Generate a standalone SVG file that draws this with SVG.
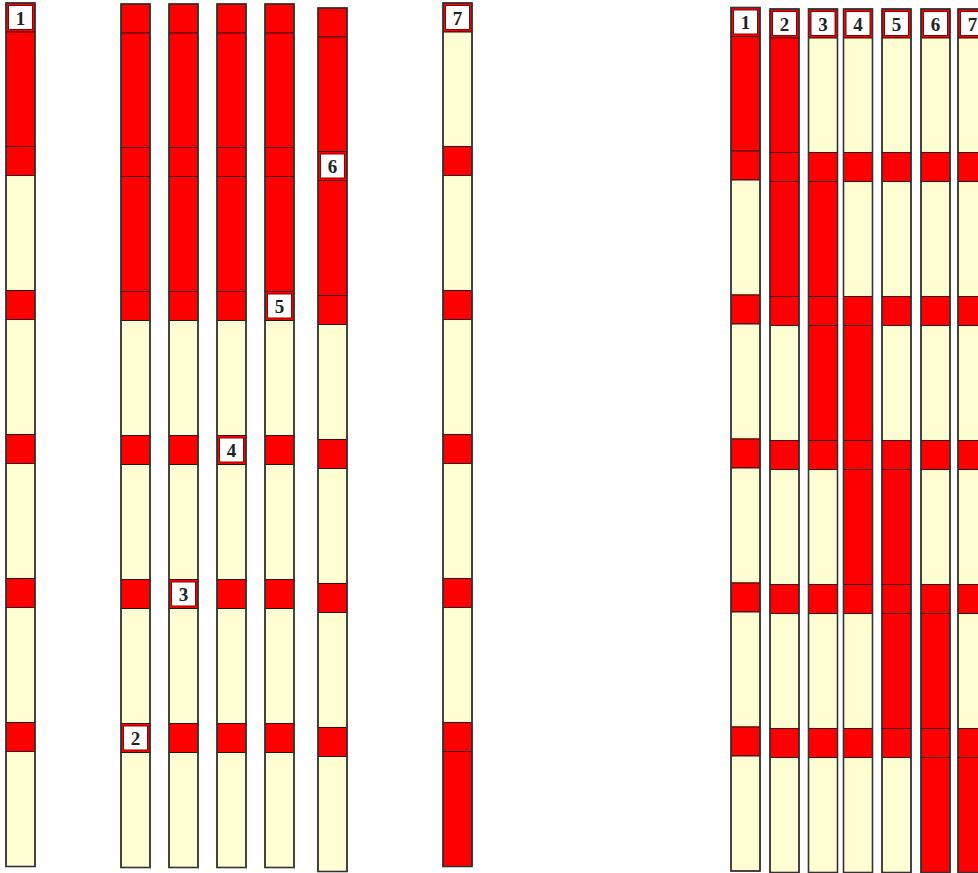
<svg xmlns="http://www.w3.org/2000/svg" width="978" height="873" viewBox="0 0 978 873">
<style>
.r{fill:#ff0000;stroke:#3a0d0d;stroke-width:1}
.c{fill:#fffdd2;stroke:#3a0d0d;stroke-width:1}
.o{fill:none;stroke:#333;stroke-width:1.6}
.w{fill:#ffffff;stroke:#8b0000;stroke-width:1}
.t{font-family:"Liberation Serif","Times New Roman",serif;font-weight:bold;font-size:19px;fill:#222;text-anchor:middle}
</style>
<rect x="0" y="0" width="978" height="873" fill="#ffffff"/>
<!-- Left group -->
<g id="left-col1" transform="translate(6,3)">
<rect class="r" x="0" y="0" width="29" height="29"/><rect class="w" x="2.5" y="2.5" width="24" height="24"/><text class="t" x="14.5" y="21.5">1</text>
<rect class="r" x="0" y="29" width="29" height="114.5"/>
<rect class="r" x="0" y="143.5" width="29" height="29"/>
<rect class="c" x="0" y="172.5" width="29" height="115"/>
<rect class="r" x="0" y="287.5" width="29" height="29"/>
<rect class="c" x="0" y="316.5" width="29" height="115"/>
<rect class="r" x="0" y="431.5" width="29" height="29"/>
<rect class="c" x="0" y="460.5" width="29" height="115"/>
<rect class="r" x="0" y="575.5" width="29" height="29"/>
<rect class="c" x="0" y="604.5" width="29" height="115"/>
<rect class="r" x="0" y="719.5" width="29" height="29"/>
<rect class="c" x="0" y="748.5" width="29" height="115"/>
<rect class="o" x="0" y="0" width="29" height="863.5"/>
</g>
<g id="left-col2" transform="translate(121,4)">
<rect class="r" x="0" y="0" width="29" height="29"/>
<rect class="r" x="0" y="29" width="29" height="114.5"/>
<rect class="r" x="0" y="143.5" width="29" height="29"/>
<rect class="r" x="0" y="172.5" width="29" height="115"/>
<rect class="r" x="0" y="287.5" width="29" height="29"/>
<rect class="c" x="0" y="316.5" width="29" height="115"/>
<rect class="r" x="0" y="431.5" width="29" height="29"/>
<rect class="c" x="0" y="460.5" width="29" height="115"/>
<rect class="r" x="0" y="575.5" width="29" height="29"/>
<rect class="c" x="0" y="604.5" width="29" height="115"/>
<rect class="r" x="0" y="719.5" width="29" height="29"/><rect class="w" x="2.5" y="722" width="24" height="24"/><text class="t" x="14.5" y="741">2</text>
<rect class="c" x="0" y="748.5" width="29" height="115"/>
<rect class="o" x="0" y="0" width="29" height="863.5"/>
</g>
<g id="left-col3" transform="translate(169,4)">
<rect class="r" x="0" y="0" width="29" height="29"/>
<rect class="r" x="0" y="29" width="29" height="114.5"/>
<rect class="r" x="0" y="143.5" width="29" height="29"/>
<rect class="r" x="0" y="172.5" width="29" height="115"/>
<rect class="r" x="0" y="287.5" width="29" height="29"/>
<rect class="c" x="0" y="316.5" width="29" height="115"/>
<rect class="r" x="0" y="431.5" width="29" height="29"/>
<rect class="c" x="0" y="460.5" width="29" height="115"/>
<rect class="r" x="0" y="575.5" width="29" height="29"/><rect class="w" x="2.5" y="578" width="24" height="24"/><text class="t" x="14.5" y="597">3</text>
<rect class="c" x="0" y="604.5" width="29" height="115"/>
<rect class="r" x="0" y="719.5" width="29" height="29"/>
<rect class="c" x="0" y="748.5" width="29" height="115"/>
<rect class="o" x="0" y="0" width="29" height="863.5"/>
</g>
<g id="left-col4" transform="translate(217,4)">
<rect class="r" x="0" y="0" width="29" height="29"/>
<rect class="r" x="0" y="29" width="29" height="114.5"/>
<rect class="r" x="0" y="143.5" width="29" height="29"/>
<rect class="r" x="0" y="172.5" width="29" height="115"/>
<rect class="r" x="0" y="287.5" width="29" height="29"/>
<rect class="c" x="0" y="316.5" width="29" height="115"/>
<rect class="r" x="0" y="431.5" width="29" height="29"/><rect class="w" x="2.5" y="434" width="24" height="24"/><text class="t" x="14.5" y="453">4</text>
<rect class="c" x="0" y="460.5" width="29" height="115"/>
<rect class="r" x="0" y="575.5" width="29" height="29"/>
<rect class="c" x="0" y="604.5" width="29" height="115"/>
<rect class="r" x="0" y="719.5" width="29" height="29"/>
<rect class="c" x="0" y="748.5" width="29" height="115"/>
<rect class="o" x="0" y="0" width="29" height="863.5"/>
</g>
<g id="left-col5" transform="translate(265,4)">
<rect class="r" x="0" y="0" width="29" height="29"/>
<rect class="r" x="0" y="29" width="29" height="114.5"/>
<rect class="r" x="0" y="143.5" width="29" height="29"/>
<rect class="r" x="0" y="172.5" width="29" height="115"/>
<rect class="r" x="0" y="287.5" width="29" height="29"/><rect class="w" x="2.5" y="290" width="24" height="24"/><text class="t" x="14.5" y="309">5</text>
<rect class="c" x="0" y="316.5" width="29" height="115"/>
<rect class="r" x="0" y="431.5" width="29" height="29"/>
<rect class="c" x="0" y="460.5" width="29" height="115"/>
<rect class="r" x="0" y="575.5" width="29" height="29"/>
<rect class="c" x="0" y="604.5" width="29" height="115"/>
<rect class="r" x="0" y="719.5" width="29" height="29"/>
<rect class="c" x="0" y="748.5" width="29" height="115"/>
<rect class="o" x="0" y="0" width="29" height="863.5"/>
</g>
<g id="left-col6" transform="translate(318,8)">
<rect class="r" x="0" y="0" width="29" height="29"/>
<rect class="r" x="0" y="29" width="29" height="114.5"/>
<rect class="r" x="0" y="143.5" width="29" height="29"/><rect class="w" x="2.5" y="146" width="24" height="24"/><text class="t" x="14.5" y="165">6</text>
<rect class="r" x="0" y="172.5" width="29" height="115"/>
<rect class="r" x="0" y="287.5" width="29" height="29"/>
<rect class="c" x="0" y="316.5" width="29" height="115"/>
<rect class="r" x="0" y="431.5" width="29" height="29"/>
<rect class="c" x="0" y="460.5" width="29" height="115"/>
<rect class="r" x="0" y="575.5" width="29" height="29"/>
<rect class="c" x="0" y="604.5" width="29" height="115"/>
<rect class="r" x="0" y="719.5" width="29" height="29"/>
<rect class="c" x="0" y="748.5" width="29" height="115"/>
<rect class="o" x="0" y="0" width="29" height="863.5"/>
</g>
<g id="left-col7" transform="translate(443,3)">
<rect class="r" x="0" y="0" width="29" height="29"/><rect class="w" x="2.5" y="2.5" width="24" height="24"/><text class="t" x="14.5" y="21.5">7</text>
<rect class="c" x="0" y="29" width="29" height="114.5"/>
<rect class="r" x="0" y="143.5" width="29" height="29"/>
<rect class="c" x="0" y="172.5" width="29" height="115"/>
<rect class="r" x="0" y="287.5" width="29" height="29"/>
<rect class="c" x="0" y="316.5" width="29" height="115"/>
<rect class="r" x="0" y="431.5" width="29" height="29"/>
<rect class="c" x="0" y="460.5" width="29" height="115"/>
<rect class="r" x="0" y="575.5" width="29" height="29"/>
<rect class="c" x="0" y="604.5" width="29" height="115"/>
<rect class="r" x="0" y="719.5" width="29" height="29"/>
<rect class="r" x="0" y="748.5" width="29" height="115"/>
<rect class="o" x="0" y="0" width="29" height="863.5"/>
</g>
<!-- Right group -->
<g id="right-col1" transform="translate(731,7.5)">
<rect class="r" x="0" y="0" width="29" height="29"/><rect class="w" x="2.5" y="2.5" width="24" height="24"/><text class="t" x="14.5" y="21.5">1</text>
<rect class="r" x="0" y="29" width="29" height="114.5"/>
<rect class="r" x="0" y="143.5" width="29" height="29"/>
<rect class="c" x="0" y="172.5" width="29" height="115"/>
<rect class="r" x="0" y="287.5" width="29" height="29"/>
<rect class="c" x="0" y="316.5" width="29" height="115"/>
<rect class="r" x="0" y="431.5" width="29" height="29"/>
<rect class="c" x="0" y="460.5" width="29" height="115"/>
<rect class="r" x="0" y="575.5" width="29" height="29"/>
<rect class="c" x="0" y="604.5" width="29" height="115"/>
<rect class="r" x="0" y="719.5" width="29" height="29"/>
<rect class="c" x="0" y="748.5" width="29" height="115"/>
<rect class="o" x="0" y="0" width="29" height="863.5"/>
</g>
<g id="right-col2" transform="translate(770,9)">
<rect class="r" x="0" y="0" width="29" height="29"/><rect class="w" x="2.5" y="2.5" width="24" height="24"/><text class="t" x="14.5" y="21.5">2</text>
<rect class="r" x="0" y="29" width="29" height="114.5"/>
<rect class="r" x="0" y="143.5" width="29" height="29"/>
<rect class="r" x="0" y="172.5" width="29" height="115"/>
<rect class="r" x="0" y="287.5" width="29" height="29"/>
<rect class="c" x="0" y="316.5" width="29" height="115"/>
<rect class="r" x="0" y="431.5" width="29" height="29"/>
<rect class="c" x="0" y="460.5" width="29" height="115"/>
<rect class="r" x="0" y="575.5" width="29" height="29"/>
<rect class="c" x="0" y="604.5" width="29" height="115"/>
<rect class="r" x="0" y="719.5" width="29" height="29"/>
<rect class="c" x="0" y="748.5" width="29" height="115"/>
<rect class="o" x="0" y="0" width="29" height="863.5"/>
</g>
<g id="right-col3" transform="translate(808.5,9)">
<rect class="r" x="0" y="0" width="29" height="29"/><rect class="w" x="2.5" y="2.5" width="24" height="24"/><text class="t" x="14.5" y="21.5">3</text>
<rect class="c" x="0" y="29" width="29" height="114.5"/>
<rect class="r" x="0" y="143.5" width="29" height="29"/>
<rect class="r" x="0" y="172.5" width="29" height="115"/>
<rect class="r" x="0" y="287.5" width="29" height="29"/>
<rect class="r" x="0" y="316.5" width="29" height="115"/>
<rect class="r" x="0" y="431.5" width="29" height="29"/>
<rect class="c" x="0" y="460.5" width="29" height="115"/>
<rect class="r" x="0" y="575.5" width="29" height="29"/>
<rect class="c" x="0" y="604.5" width="29" height="115"/>
<rect class="r" x="0" y="719.5" width="29" height="29"/>
<rect class="c" x="0" y="748.5" width="29" height="115"/>
<rect class="o" x="0" y="0" width="29" height="863.5"/>
</g>
<g id="right-col4" transform="translate(843.5,9)">
<rect class="r" x="0" y="0" width="29" height="29"/><rect class="w" x="2.5" y="2.5" width="24" height="24"/><text class="t" x="14.5" y="21.5">4</text>
<rect class="c" x="0" y="29" width="29" height="114.5"/>
<rect class="r" x="0" y="143.5" width="29" height="29"/>
<rect class="c" x="0" y="172.5" width="29" height="115"/>
<rect class="r" x="0" y="287.5" width="29" height="29"/>
<rect class="r" x="0" y="316.5" width="29" height="115"/>
<rect class="r" x="0" y="431.5" width="29" height="29"/>
<rect class="r" x="0" y="460.5" width="29" height="115"/>
<rect class="r" x="0" y="575.5" width="29" height="29"/>
<rect class="c" x="0" y="604.5" width="29" height="115"/>
<rect class="r" x="0" y="719.5" width="29" height="29"/>
<rect class="c" x="0" y="748.5" width="29" height="115"/>
<rect class="o" x="0" y="0" width="29" height="863.5"/>
</g>
<g id="right-col5" transform="translate(882,9)">
<rect class="r" x="0" y="0" width="29" height="29"/><rect class="w" x="2.5" y="2.5" width="24" height="24"/><text class="t" x="14.5" y="21.5">5</text>
<rect class="c" x="0" y="29" width="29" height="114.5"/>
<rect class="r" x="0" y="143.5" width="29" height="29"/>
<rect class="c" x="0" y="172.5" width="29" height="115"/>
<rect class="r" x="0" y="287.5" width="29" height="29"/>
<rect class="c" x="0" y="316.5" width="29" height="115"/>
<rect class="r" x="0" y="431.5" width="29" height="29"/>
<rect class="r" x="0" y="460.5" width="29" height="115"/>
<rect class="r" x="0" y="575.5" width="29" height="29"/>
<rect class="r" x="0" y="604.5" width="29" height="115"/>
<rect class="r" x="0" y="719.5" width="29" height="29"/>
<rect class="c" x="0" y="748.5" width="29" height="115"/>
<rect class="o" x="0" y="0" width="29" height="863.5"/>
</g>
<g id="right-col6" transform="translate(921,9)">
<rect class="r" x="0" y="0" width="29" height="29"/><rect class="w" x="2.5" y="2.5" width="24" height="24"/><text class="t" x="14.5" y="21.5">6</text>
<rect class="c" x="0" y="29" width="29" height="114.5"/>
<rect class="r" x="0" y="143.5" width="29" height="29"/>
<rect class="c" x="0" y="172.5" width="29" height="115"/>
<rect class="r" x="0" y="287.5" width="29" height="29"/>
<rect class="c" x="0" y="316.5" width="29" height="115"/>
<rect class="r" x="0" y="431.5" width="29" height="29"/>
<rect class="c" x="0" y="460.5" width="29" height="115"/>
<rect class="r" x="0" y="575.5" width="29" height="29"/>
<rect class="r" x="0" y="604.5" width="29" height="115"/>
<rect class="r" x="0" y="719.5" width="29" height="29"/>
<rect class="r" x="0" y="748.5" width="29" height="115"/>
<rect class="o" x="0" y="0" width="29" height="863.5"/>
</g>
<g id="right-col7" transform="translate(958,9)">
<rect class="r" x="0" y="0" width="29" height="29"/><rect class="w" x="2.5" y="2.5" width="24" height="24"/><text class="t" x="14.5" y="21.5">7</text>
<rect class="c" x="0" y="29" width="29" height="114.5"/>
<rect class="r" x="0" y="143.5" width="29" height="29"/>
<rect class="c" x="0" y="172.5" width="29" height="115"/>
<rect class="r" x="0" y="287.5" width="29" height="29"/>
<rect class="c" x="0" y="316.5" width="29" height="115"/>
<rect class="r" x="0" y="431.5" width="29" height="29"/>
<rect class="c" x="0" y="460.5" width="29" height="115"/>
<rect class="r" x="0" y="575.5" width="29" height="29"/>
<rect class="c" x="0" y="604.5" width="29" height="115"/>
<rect class="r" x="0" y="719.5" width="29" height="29"/>
<rect class="r" x="0" y="748.5" width="29" height="115"/>
<rect class="o" x="0" y="0" width="29" height="863.5"/>
</g>
<g id="connectors"></g>
</svg>
